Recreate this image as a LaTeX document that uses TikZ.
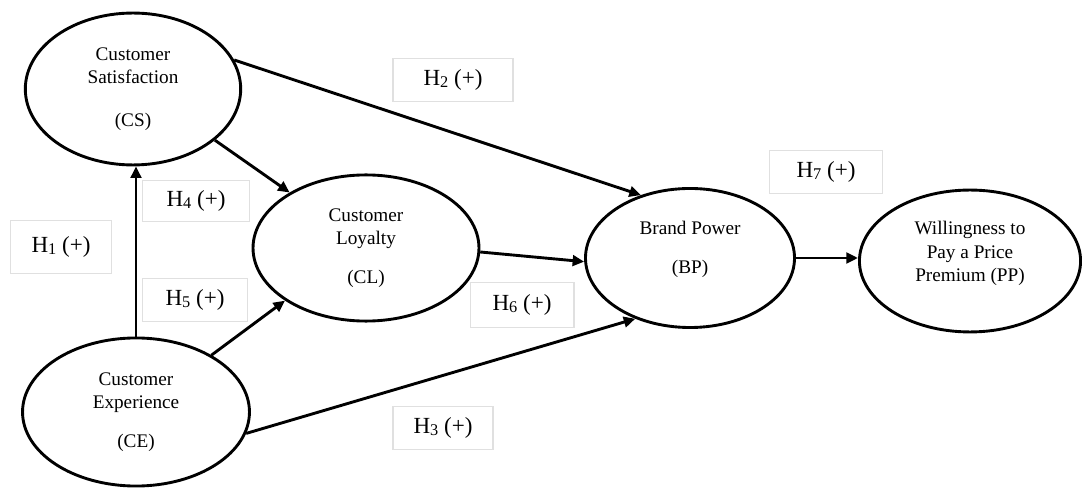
\documentclass[tikz,border=0pt]{standalone}
\usepackage{fontspec}
\setmainfont{Liberation Serif}
\usetikzlibrary{arrows.meta, shapes.geometric, positioning}
\newcommand{\hsub}[1]{\raisebox{-1pt}{\fontsize{8.5}{9}\selectfont #1}}

\begin{document}
\begin{tikzpicture}[x=0.52pt, y=-0.52pt,
  construct/.style={ellipse, draw=black, line width=1.5pt, inner sep=0pt, align=center, font=\fontsize{10}{12}\selectfont},
  hyp/.style={rectangle, draw=black!12, line width=0.6pt, inner sep=0pt, minimum width=55pt, minimum height=22pt, font=\fontsize{12}{14}\selectfont},
  link/.style={line width=1.5pt, -{Triangle[length=6pt, width=5.5pt]}}]
\useasboundingbox (0,0) rectangle (1082,488);
\node[construct, minimum width=112pt, minimum height=79pt] (cs) at (133,89) {Customer\\Satisfaction\\[10pt](CS)};
\node[construct, minimum width=118pt, minimum height=77pt] (ce) at (136,412) {Customer\\Experience\\[8pt](CE)};
\node[construct, minimum width=117.5pt, minimum height=76pt] (cl) at (366,248) {Customer\\Loyalty\\[8pt](CL)};
\node[construct, minimum width=108.7pt, minimum height=72.3pt, text depth=11pt] (bp) at (690,258) {Brand Power\\[8pt](BP)};
\node[construct, minimum width=115pt, minimum height=73.8pt, text depth=10pt] (pp) at (970,261) {Willingness to\\Pay a Price\\Premium (PP)};
\node[hyp, minimum width=52.5pt, minimum height=27.5pt] (h1) at (61,247) {H\hsub{1} (+)};
\node[hyp, minimum width=62.4pt] (h2) at (453,80) {H\hsub{2} (+)};
\node[hyp, minimum width=52pt] (h3) at (443,428) {H\hsub{3} (+)};
\node[hyp, minimum width=56pt, minimum height=21.3pt] (h4) at (196,201) {H\hsub{4} (+)};
\node[hyp] (h5) at (195,300) {H\hsub{5} (+)};
\node[hyp, minimum width=54pt, minimum height=23pt] (h6) at (522,305) {H\hsub{6} (+)};
\node[hyp, minimum width=58.8pt] (h7) at (826,172) {H\hsub{7} (+)};
\draw[link] (ce.north) -- (ce.north |- cs.south);
\draw[link] (cs.16.3) -- (bp.128.7);
\draw[link] (ce.-11.4) -- (bp.228.5);
\draw[link] (cs.-32.8) -- (cl.144.8);
\draw[link] (ce.37.6) -- (cl.213.4);
\draw[link] (cl.-2.6) -- (bp.182);
\draw[link] (bp.east) -- (bp.east -| pp.west);
\end{tikzpicture}
\end{document}
